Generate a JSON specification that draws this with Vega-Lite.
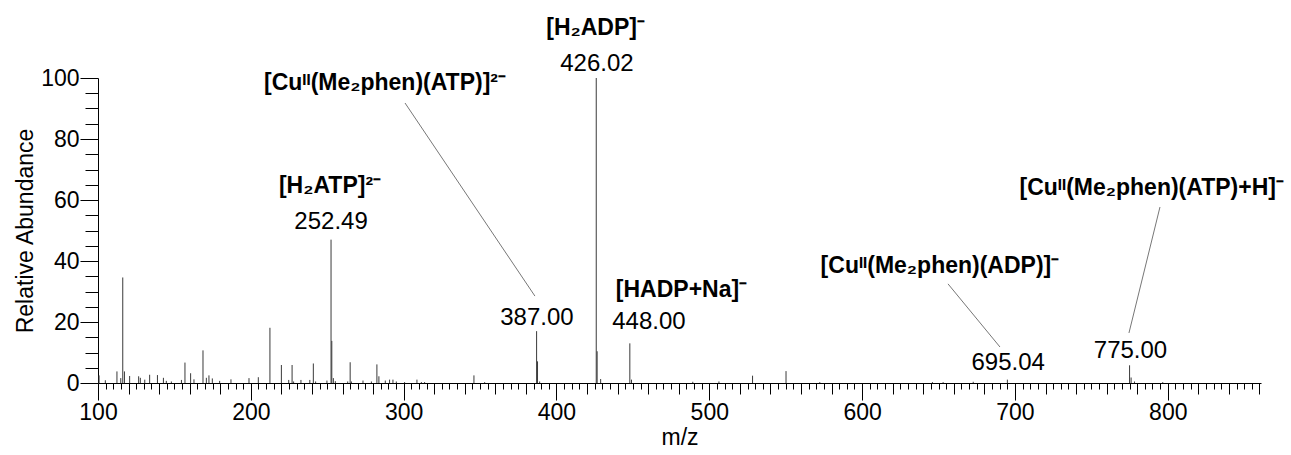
{
  "$schema": "https://vega.github.io/schema/vega-lite/v6.json",
  "width": 1163,
  "height": 305,
  "autosize": {"type": "none"},
  "padding": {"left": 98, "top": 78, "right": 30, "bottom": 72},
  "background": "white",
  "config": {"view": {"stroke": null}, "font": "Liberation Sans"},
  "datasets": {
    "peaks": [
      {"mz": 100.7, "ab": 2.5}, {"mz": 104.8, "ab": 0.9}, {"mz": 112.4, "ab": 3.8}, {"mz": 114.9, "ab": 1.6},
      {"mz": 116.2, "ab": 34.6}, {"mz": 117.3, "ab": 3.8}, {"mz": 120.7, "ab": 2.3}, {"mz": 126.6, "ab": 2.2},
      {"mz": 127.7, "ab": 1.7}, {"mz": 130.6, "ab": 1.1}, {"mz": 133.8, "ab": 2.7}, {"mz": 138.9, "ab": 2.6},
      {"mz": 142.8, "ab": 1.7}, {"mz": 144.7, "ab": 0.7}, {"mz": 148.0, "ab": 0.5}, {"mz": 154.6, "ab": 1.0},
      {"mz": 156.9, "ab": 6.7}, {"mz": 160.6, "ab": 3.2}, {"mz": 162.8, "ab": 1.2}, {"mz": 168.7, "ab": 10.7},
      {"mz": 170.9, "ab": 1.7}, {"mz": 172.6, "ab": 2.5}, {"mz": 174.8, "ab": 1.5}, {"mz": 179.6, "ab": 0.7},
      {"mz": 187.0, "ab": 1.2}, {"mz": 198.8, "ab": 1.6}, {"mz": 204.9, "ab": 1.9}, {"mz": 212.5, "ab": 18.1},
      {"mz": 220.0, "ab": 5.9}, {"mz": 224.8, "ab": 1.0}, {"mz": 227.0, "ab": 5.9}, {"mz": 228.0, "ab": 0.5},
      {"mz": 232.8, "ab": 1.0}, {"mz": 238.6, "ab": 1.0}, {"mz": 240.9, "ab": 6.4}, {"mz": 242.4, "ab": 0.5},
      {"mz": 249.8, "ab": 0.8}, {"mz": 252.49, "ab": 47.0}, {"mz": 252.99, "ab": 13.8}, {"mz": 254.0, "ab": 1.6},
      {"mz": 255.3, "ab": 0.6}, {"mz": 263.4, "ab": 0.5}, {"mz": 265.0, "ab": 6.8}, {"mz": 265.8, "ab": 0.5},
      {"mz": 273.4, "ab": 0.8}, {"mz": 278.9, "ab": 0.5}, {"mz": 282.5, "ab": 6.1}, {"mz": 283.8, "ab": 2.2},
      {"mz": 288.0, "ab": 0.8}, {"mz": 290.8, "ab": 1.1}, {"mz": 293.0, "ab": 1.1}, {"mz": 295.2, "ab": 0.5},
      {"mz": 300.6, "ab": 0.3}, {"mz": 308.7, "ab": 1.1}, {"mz": 311.6, "ab": 0.3}, {"mz": 313.7, "ab": 0.3},
      {"mz": 346.0, "ab": 2.5}, {"mz": 353.0, "ab": 0.3}, {"mz": 387.0, "ab": 17.0}, {"mz": 387.6, "ab": 7.1},
      {"mz": 389.0, "ab": 0.5}, {"mz": 426.02, "ab": 100}, {"mz": 426.6, "ab": 10.4}, {"mz": 428.9, "ab": 1.3},
      {"mz": 448.0, "ab": 13.0}, {"mz": 449.1, "ab": 1.1}, {"mz": 489.2, "ab": 0.4}, {"mz": 506.3, "ab": 0.5},
      {"mz": 528.3, "ab": 2.4}, {"mz": 550.2, "ab": 3.9}, {"mz": 572.3, "ab": 0.3}, {"mz": 646.0, "ab": 0.3},
      {"mz": 653.0, "ab": 0.3}, {"mz": 672.7, "ab": 0.4}, {"mz": 695.04, "ab": 1.1}, {"mz": 775.0, "ab": 5.8},
      {"mz": 776.0, "ab": 1.8}, {"mz": 778.2, "ab": 0.5}, {"mz": 796.7, "ab": 0.3}
    ],
    "ions": [
      {"mz": 425.6, "ab": 116.4, "text": "[H₂ADP]⁻"},
      {"mz": 287.8, "ab": 98.4, "text": "[Cuᴵᴵ(Me₂phen)(ATP)]²⁻"},
      {"mz": 251.8, "ab": 64.6, "text": "[H₂ATP]²⁻"},
      {"mz": 481.8, "ab": 30.5, "text": "[HADP+Na]⁻"},
      {"mz": 650.9, "ab": 38.4, "text": "[Cuᴵᴵ(Me₂phen)(ADP)]⁻"},
      {"mz": 789.5, "ab": 63.8, "text": "[Cuᴵᴵ(Me₂phen)(ATP)+H]⁻"}
    ],
    "numbers": [
      {"mz": 426.5, "ab": 104.6, "text": "426.02"},
      {"mz": 387.2, "ab": 21.3, "text": "387.00"},
      {"mz": 252.5, "ab": 52.8, "text": "252.49"},
      {"mz": 460.5, "ab": 20.1, "text": "448.00"},
      {"mz": 695.6, "ab": 6.5, "text": "695.04"},
      {"mz": 775.6, "ab": 10.6, "text": "775.00"}
    ],
    "leaders": [
      {"mz": 300.9, "ab": 91.8, "mz2": 385.9, "ab2": 28.5},
      {"mz": 656.2, "ab": 32.5, "mz2": 690.2, "ab2": 11.8},
      {"mz": 794.9, "ab": 57.7, "mz2": 774.6, "ab2": 16.4}
    ]
  },
  "encoding": {
    "x": {
      "field": "mz", "type": "quantitative",
      "scale": {"domain": [100, 861], "nice": false, "zero": false},
      "axis": {
        "values": [100,105,110,115,120,125,130,135,140,145,150,155,160,165,170,175,180,185,190,195,200,205,210,215,220,225,230,235,240,245,250,255,260,265,270,275,280,285,290,295,300,305,310,315,320,325,330,335,340,345,350,355,360,365,370,375,380,385,390,395,400,405,410,415,420,425,430,435,440,445,450,455,460,465,470,475,480,485,490,495,500,505,510,515,520,525,530,535,540,545,550,555,560,565,570,575,580,585,590,595,600,605,610,615,620,625,630,635,640,645,650,655,660,665,670,675,680,685,690,695,700,705,710,715,720,725,730,735,740,745,750,755,760,765,770,775,780,785,790,795,800,805,810,815,820,825,830,835,840,845,850,855,860],
        "labelExpr": "datum.value % 100 === 0 ? datum.label : ''",
        "tickSize": 17,
        "tickDash": {
          "condition": [
            {"test": "datum.value % 20 !== 0", "value": [6, 40]},
            {"test": "datum.value % 100 !== 0", "value": [11, 40]}
          ],
          "value": [20, 1]
        },
        "tickColor": "black", "domainColor": "black", "tickWidth": 1, "domainWidth": 1,
        "labelFontSize": 23, "labelColor": "black", "labelPadding": 1,
        "labelFlush": false, "labelOverlap": false, "labelBound": false, "grid": false,
        "title": "m/z", "titleFontSize": 23, "titleFontWeight": "normal", "titleColor": "black", "titlePadding": 2
      }
    },
    "y": {
      "field": "ab", "type": "quantitative",
      "scale": {"domain": [0, 100], "nice": false},
      "axis": {
        "values": [0,5,10,15,20,25,30,35,40,45,50,55,60,65,70,75,80,85,90,95,100],
        "labelExpr": "datum.value % 20 === 0 ? datum.label : ''",
        "tickSize": 18,
        "tickDash": {
          "condition": {"test": "datum.value % 20 !== 0", "value": [13, 40]},
          "value": [20, 1]
        },
        "tickColor": "black", "domainColor": "black", "tickWidth": 1, "domainWidth": 1,
        "labelFontSize": 23, "labelColor": "black", "labelPadding": 1,
        "labelFlush": false, "labelOverlap": false, "labelBound": false, "grid": false,
        "title": "Relative Abundance", "titleFontSize": 23, "titleFontWeight": "normal", "titleColor": "black", "titlePadding": 3
      }
    }
  },
  "layer": [
    {
      "data": {"name": "peaks"},
      "mark": {"type": "rule", "color": "#3a3a3a", "strokeWidth": 1},
      "encoding": {"y2": {"datum": 0}}
    },
    {
      "data": {"name": "leaders"},
      "mark": {"type": "rule", "color": "#777777", "strokeWidth": 1},
      "encoding": {"x2": {"field": "mz2"}, "y2": {"field": "ab2"}}
    },
    {
      "data": {"name": "numbers"},
      "mark": {"type": "text", "font": "Liberation Sans", "fontSize": 24, "color": "black", "align": "center", "baseline": "middle"},
      "encoding": {"text": {"field": "text"}}
    },
    {
      "data": {"name": "ions"},
      "mark": {"type": "text", "font": "Liberation Sans", "fontSize": 23, "fontWeight": "bold", "color": "black", "align": "center", "baseline": "middle"},
      "encoding": {"text": {"field": "text"}}
    }
  ]
}
